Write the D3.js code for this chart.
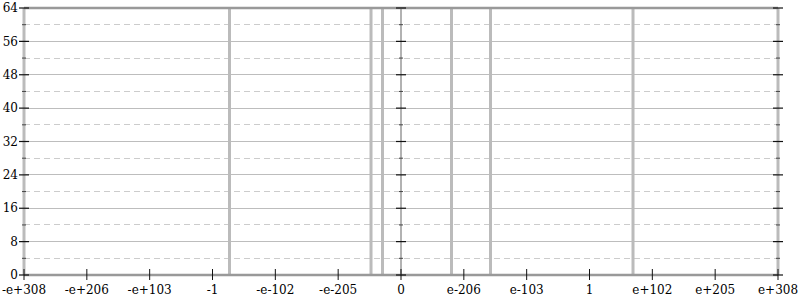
<!DOCTYPE html>
<html><head><meta charset="utf-8">
<script src="https://cdn.jsdelivr.net/npm/d3@7"></script>
<style>body{margin:0;background:#fff}svg{display:block;font-family:"DejaVu Serif",serif}</style>
</head><body><svg id="c" width="800" height="300"></svg>
<script>
// data: values (doubles) of each bin, and its count
const values = [-2.4e-28, -1.2e-259, -2.0e-278, 4.0e-226, 2.2e-162, 1.9e71];
const counts = [64, 64, 64, 64, 64, 64];
const xTickFractions = [-6,-5,-4,-3,-2,-1,0,1,2,3,4,5,6];
const xTickLabels = ["-e+308","-e+206","-e+103","-1","-e-102","-e-205","0","e-206","e-103","1","e+102","e+205","e+308"];
const yMajor = [0,8,16,24,32,40,48,56,64];
const yMinor = [4,12,20,28,36,44,52,60];

const dv = new DataView(new ArrayBuffer(8));
function ord(v){ dv.setFloat64(0, Math.abs(v)); const n = Number(dv.getBigUint64(0)); return v < 0 ? -n : n; }
const maxOrd = ord(Number.MAX_VALUE);

const W=800,H=300,m={l:24,r:22,t:8,b:25};
const svg=d3.select("#c");
const x=d3.scaleLinear().domain([-maxOrd,maxOrd]).range([m.l,W-m.r]);
const y=d3.scaleLinear().domain([0,64]).range([H-m.b,m.t]);
const X=v=>x(ord(v));

// grid
svg.append("g").selectAll("line").data(yMajor.filter(d=>d>0&&d<64)).join("line")
 .attr("x1",m.l).attr("x2",W-m.r).attr("y1",d=>y(d)).attr("y2",d=>y(d))
 .attr("stroke","#bdbdbd").attr("stroke-width",1).attr("shape-rendering","crispEdges");
svg.append("g").selectAll("line").data(yMinor).join("line")
 .attr("x1",m.l).attr("x2",W-m.r).attr("y1",d=>y(d)).attr("y2",d=>y(d))
 .attr("stroke","#cccccc").attr("stroke-width",1).attr("stroke-dasharray","6,4").attr("shape-rendering","crispEdges");

// bars
svg.append("g").selectAll("rect").data(values).join("rect")
 .attr("x",d=>X(d)-1.5).attr("width",3)
 .attr("y",(d,i)=>y(counts[i])).attr("height",(d,i)=>y(0)-y(counts[i]))
 .attr("fill","#bbbbbb");

// frame
svg.append("line").attr("x1",m.l).attr("x2",m.l).attr("y1",y(0)).attr("y2",y(64)).attr("stroke","#bbbbbb").attr("stroke-width",3);
svg.append("line").attr("x1",W-m.r).attr("x2",W-m.r).attr("y1",y(0)).attr("y2",y(64)).attr("stroke","#bbbbbb").attr("stroke-width",3);
svg.append("line").attr("x1",x(0)).attr("x2",x(0)).attr("y1",y(0)).attr("y2",y(64)).attr("stroke","#999").attr("stroke-width",1.5);
svg.append("line").attr("x1",m.l).attr("x2",W-m.r).attr("y1",y(64)).attr("y2",y(64)).attr("stroke","#999").attr("stroke-width",2.5);
svg.append("line").attr("x1",m.l).attr("x2",W-m.r).attr("y1",y(0)).attr("y2",y(0)).attr("stroke","#999").attr("stroke-width",2.5);

// y ticks at three vertical axes
[m.l, x(0), W-m.r].forEach(ax=>{
  const g=svg.append("g");
  g.selectAll("line.maj").data(yMajor).join("line").attr("class","maj")
   .attr("x1",ax-5).attr("x2",ax+5).attr("y1",d=>y(d)).attr("y2",d=>y(d))
   .attr("stroke","#111").attr("stroke-width",1.2);
  g.selectAll("line.min").data(yMinor).join("line").attr("class","min")
   .attr("x1",ax-2).attr("x2",ax+2).attr("y1",d=>y(d)).attr("y2",d=>y(d))
   .attr("stroke","#444").attr("stroke-width",1);
});
svg.append("g").selectAll("text").data(yMajor).join("text")
 .attr("x",m.l-6).attr("y",d=>y(d)).attr("dy","0.35em").attr("text-anchor","end")
 .attr("font-size",12).attr("fill","#000").text(d=>d);

// x ticks
const xt=xTickFractions.map(k=>k/6*maxOrd);
svg.append("g").selectAll("line").data(xt).join("line")
 .attr("x1",d=>x(d)).attr("x2",d=>x(d)).attr("y1",y(0)-6).attr("y2",y(0)+5)
 .attr("stroke","#111").attr("stroke-width",1);
svg.append("g").selectAll("text").data(xt).join("text")
 .attr("x",d=>x(d)).attr("y",H-6).attr("text-anchor","middle")
 .attr("font-size",12).attr("fill","#000").text((d,i)=>xTickLabels[i]);
</script></body></html>
